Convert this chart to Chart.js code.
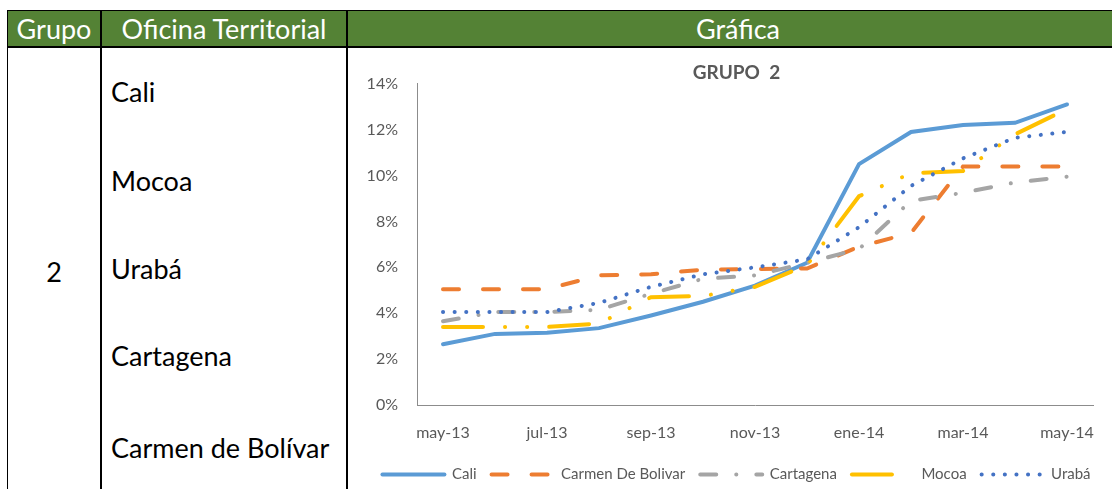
<!DOCTYPE html>
<html>
<head>
<meta charset="utf-8">
<script src="https://cdn.jsdelivr.net/npm/chart.js@4.4.0/dist/chart.umd.min.js"></script>
<style>
  body { margin: 0; width: 1112px; height: 489px; overflow: hidden; background: #fff; position: relative; font-family: Lato, sans-serif; }
  .line { position: absolute; background: #000; }
  .hdr { position: absolute; top: 11px; height: 35px; line-height: 36px; background: #548235; color: #fff; font-size: 27px; text-align: center; }
  .txt { position: absolute; font-size: 27px; line-height: 27px; color: #000; white-space: nowrap; }
  #chartBox { position: absolute; left: 348px; top: 48px; width: 764px; height: 444px; }
</style>
</head>
<body>
  <!-- header cells -->
  <div class="hdr" style="left:8px;width:92px;">Grupo</div>
  <div class="hdr" style="left:102px;width:244px;">Oficina Territorial</div>
  <div class="hdr" style="left:348px;width:780px;">Gráfica</div>

  <!-- borders -->
  <div class="line" style="left:7px;top:10px;width:1105px;height:1px;"></div>
  <div class="line" style="left:7px;top:46px;width:1105px;height:2px;"></div>
  <div class="line" style="left:7px;top:10px;width:1px;height:479px;"></div>
  <div class="line" style="left:100px;top:10px;width:2px;height:479px;"></div>
  <div class="line" style="left:346px;top:10px;width:2px;height:479px;"></div>

  <!-- body text -->
  <div class="txt" style="left:8px;width:92px;text-align:center;top:258px;">2</div>
  <div class="txt" style="left:111px;top:78px;">Cali</div>
  <div class="txt" style="left:111px;top:167px;">Mocoa</div>
  <div class="txt" style="left:111px;top:255px;">Urabá</div>
  <div class="txt" style="left:111px;top:342px;">Cartagena</div>
  <div class="txt" style="left:111px;top:434px;">Carmen de Bolívar</div>

  <div id="chartBox"><canvas id="grupoChart"></canvas></div>

<script>
  const categories = ['may-13', 'jun-13', 'jul-13', 'ago-13', 'sep-13', 'oct-13', 'nov-13',
                      'dic-13', 'ene-14', 'feb-14', 'mar-14', 'abr-14', 'may-14'];
  const cali = [2.65, 3.1, 3.15, 3.35, 3.9, 4.5, 5.2, 6.2, 10.5, 11.9, 12.2, 12.3, 13.1];
  const carmenDeBolivar = [5.05, 5.05, 5.05, 5.65, 5.7, 5.9, 5.93, 5.95, 6.9, 7.5, 10.4, 10.4, 10.4];
  const cartagena = [3.65, 4.05, 4.05, 4.15, 4.85, 5.5, 5.65, 6.2, 6.8, 8.9, 9.25, 9.7, 9.95];
  const mocoa = [3.4, 3.4, 3.4, 3.55, 4.7, 4.75, 5.15, 6.1, 9.1, 10.1, 10.2, 11.8, 12.9];
  const uraba = [4.05, 4.05, 4.05, 4.45, 5.15, 5.7, 6.0, 6.35, 7.75, 9.55, 10.75, 11.65, 11.9];
  const yTicks = [0, 2, 4, 6, 8, 10, 12, 14];

  const gray = '#595959';
  Chart.defaults.font.family = "Lato, sans-serif";

  new Chart(document.getElementById('grupoChart'), {
    type: 'line',
    data: {
      labels: categories,
      datasets: [
        { label: 'Cali', data: cali, borderColor: '#5B9BD5', borderWidth: 4, borderCapStyle: 'round', order: 5 },
        { label: 'Carmen De Bolivar', data: carmenDeBolivar, borderColor: '#ED7D31', borderWidth: 4,
          borderDash: [16, 24], borderCapStyle: 'round', order: 4 },
        { label: 'Cartagena', data: cartagena, borderColor: '#A5A5A5', borderWidth: 4,
          borderDash: [16, 20, 0.1, 20], borderCapStyle: 'round', order: 3 },
        { label: 'Mocoa', data: mocoa, borderColor: '#FFC000', borderWidth: 4,
          borderDash: [40, 22, 0.1, 22, 0.1, 22], borderCapStyle: 'round', order: 2 },
        { label: 'Urabá', data: uraba, borderColor: '#4472C4', borderWidth: 4,
          borderDash: [0.1, 11.5], borderCapStyle: 'round', order: 1 }
      ]
    },
    options: {
      responsive: true,
      maintainAspectRatio: false,
      animation: false,
      layout: { padding: { left: 16, right: 3, top: 0, bottom: 0 } },
      elements: { point: { radius: 0 }, line: { tension: 0, fill: false } },
      plugins: {
        title: {
          display: true,
          text: 'GRUPO  2',
          color: gray,
          font: { size: 19, weight: 'bold' },
          padding: { top: 13, bottom: 0 }
        },
        legend: {
          position: 'bottom',
          labels: {
            usePointStyle: true,
            pointStyle: 'line',
            pointStyleWidth: 62,
            padding: 15,
            color: gray,
            font: { size: 15 },
            // legend samples keep the dash pattern of each series
            generateLabels: chart => chart.data.datasets.map((ds, i) => ({
              text: ds.label,
              datasetIndex: i,
              fillStyle: ds.borderColor,
              strokeStyle: ds.borderColor,
              fontColor: gray,
              lineWidth: ds.borderWidth,
              lineDash: ds.borderDash || [],
              lineCap: ds.borderCapStyle,
              pointStyle: 'line',
              hidden: false
            }))
          }
        },
        tooltip: { enabled: false }
      },
      scales: {
        x: {
          offset: true,
          grid: { display: false, drawTicks: false },
          border: { display: true, color: '#8c8c8c', width: 1 },
          afterFit: s => { s.height = 47; },
          ticks: {
            autoSkip: false,
            maxRotation: 0,
            padding: 18,
            color: gray,
            font: { size: 16 },
            callback: (v, i) => (i % 2 === 0 ? categories[i] : '')
          }
        },
        y: {
          min: 0,
          max: 14,
          afterBuildTicks: s => { s.ticks = yTicks.map(v => ({ value: v })); },
          afterFit: s => { s.width = 53; },
          grid: { display: false, drawTicks: false },
          border: { display: true, color: '#8c8c8c', width: 1 },
          ticks: { padding: 19, color: gray, font: { size: 16 }, callback: v => v + '%' }
        }
      }
    }
  });
</script>
</body>
</html>
